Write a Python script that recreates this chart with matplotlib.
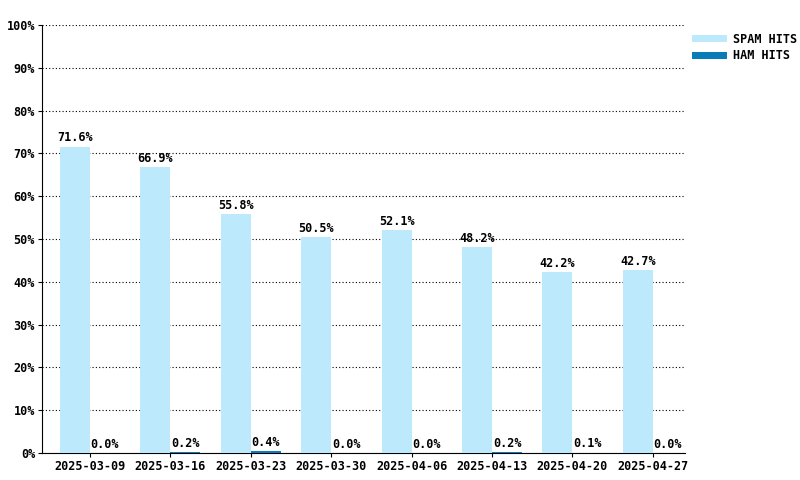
import matplotlib
matplotlib.use("Agg")
import matplotlib.pyplot as plt
import numpy as np

weeks = ["2025-03-09","2025-03-16","2025-03-23","2025-03-30","2025-04-06","2025-04-13","2025-04-20","2025-04-27"]
spam = [71.6, 66.9, 55.8, 50.5, 52.1, 48.2, 42.2, 42.7]
ham = [0.0, 0.2, 0.4, 0.0, 0.0, 0.2, 0.1, 0.0]
yticks = [0,10,20,30,40,50,60,70,80,90,100]

font = "DejaVu Sans Mono"
fig = plt.figure(figsize=(8,4.8), dpi=100)
ax = fig.add_axes([42/800, 27/480, 643/800, 428/480])
x = np.arange(len(weeks))
w = 0.373
sc, hc = "#bde9fc", "#0a7bb9"
ax.bar(x - w/2, spam, w, color=sc, label="SPAM HITS", zorder=3)
ax.bar(x + w/2, ham, w, color=hc, label="HAM HITS", zorder=3)
for xi, s, h in zip(x, spam, ham):
    ax.text(xi - w/2, s + 0.5, f"{s:.1f}%", ha="center", va="bottom", fontsize=8.5, fontweight="bold", family=font, zorder=4)
    ax.text(xi + w/2, h + 0.5, f"{h:.1f}%", ha="center", va="bottom", fontsize=8.5, fontweight="bold", family=font, zorder=4)
ax.set_xlim(-0.597, 7.4)
ax.set_ylim(0, 100)
ax.set_yticks(yticks)
ax.set_yticklabels([f"{t}%" for t in yticks])
ax.set_xticks(x)
ax.set_xticklabels(weeks)
for lab in ax.get_xticklabels() + ax.get_yticklabels():
    lab.set_family(font); lab.set_fontweight("bold"); lab.set_fontsize(8.5)
ax.tick_params(length=3, pad=2)
ax.yaxis.grid(True, linestyle=(0,(1,2)), color="black", linewidth=0.8, zorder=0)
for s in ["top","right"]:
    ax.spines[s].set_visible(False)
leg = fig.legend(loc="upper left", bbox_to_anchor=(686/800, 1-27/480), frameon=False,
                 prop={"family": font, "weight": "bold", "size": 8.5},
                 handlelength=3, handleheight=0.6, labelspacing=0.3, borderpad=0, handletextpad=0.5)
fig.savefig("out.png", dpi=100)
